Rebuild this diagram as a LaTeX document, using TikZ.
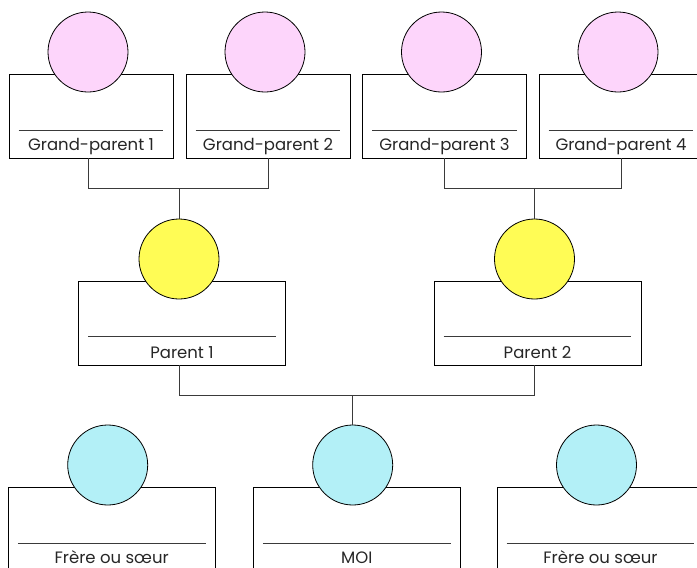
\documentclass[tikz,border=0pt]{standalone}
\usepackage{fontspec}
\setmainfont{Poppins}
\usetikzlibrary{positioning}
\definecolor{rose}{HTML}{FDD5FB}
\definecolor{jaune}{HTML}{FFFC55}
\definecolor{bleuclair}{HTML}{B3F0F7}
\definecolor{gris}{HTML}{3A3A3A}
\tikzset{
  fiche/.style={draw, line width=0.9pt, minimum height=84pt, inner sep=0pt},
  petite/.style={fiche, minimum width=164pt},
  grande/.style={fiche, minimum width=207pt},
  tete/.style={circle, draw, line width=0.8pt, minimum size=80pt, inner sep=0pt},
  trait/.style={gris, line width=0.9pt},
  nom/.style={anchor=base, inner sep=0pt, text=black!85, font=\fontsize{16.5}{19}\selectfont},
  lien/.style={gris, line width=0.9pt}
}
\begin{document}
\begin{tikzpicture}[x=1pt,y=-1pt]
\useasboundingbox (0,0) rectangle (697,568);
\clip (0,0) rectangle (697,568);
% grands-parents
\foreach \n/\x in {1/91,2/268,3/444.5,4/621}{
  \node[petite] (gp\n) at (\x,116) {};
  \draw[trait] ([xshift=10pt,yshift=28pt]gp\n.south west) -- ([xshift=-10pt,yshift=28pt]gp\n.south east);
  \node[nom] (ngp\n) at ([yshift=8pt]gp\n.south) {Grand-parent \n};
  \node[tete, fill=rose] (tgp\n) at (\x-3,52) {};
}
% parents
\foreach \n/\x in {1/182,2/537.5}{
  \node[grande] (p\n) at (\x,323) {};
  \draw[trait] ([xshift=10pt,yshift=29pt]p\n.south west) -- ([xshift=-10pt,yshift=29pt]p\n.south east);
  \node[nom] (np\n) at ([yshift=7pt]p\n.south) {Parent \n};
  \node[tete, fill=jaune] (tp\n) at (\x-3,259) {};
}
% enfants
\foreach \n/\x/\t in {f1/111.7/Frère ou sœur,moi/356.7/MOI,f2/600.5/Frère ou sœur}{
  \node[grande] (e\n) at (\x,529) {};
  \draw[trait] ([xshift=10pt,yshift=28pt]e\n.south west) -- ([xshift=-10pt,yshift=28pt]e\n.south east);
  \node[nom] (ne\n) at ([yshift=8pt]e\n.south) {\t};
  \node[tete, fill=bleuclair] (te\n) at (\x-4,465) {};
}
% liens
\draw[lien] (tgp1 |- gp1.south) -- ++(0,30) coordinate (j1) -| (gp2.south);
\draw[lien] (tp1.north) -- (tp1.north |- j1);
\draw[lien] (gp3.south) -- ++(0,30) coordinate (j2) -| (gp4.south);
\draw[lien] (tp2.north) -- (tp2.north |- j2);
\draw[lien] (tp1 |- p1.south) -- ++(0,30) coordinate (j3) -| (tp2 |- p2.south);
\draw[lien] (temoi.north) -- (temoi.north |- j3);
\end{tikzpicture}
\end{document}
